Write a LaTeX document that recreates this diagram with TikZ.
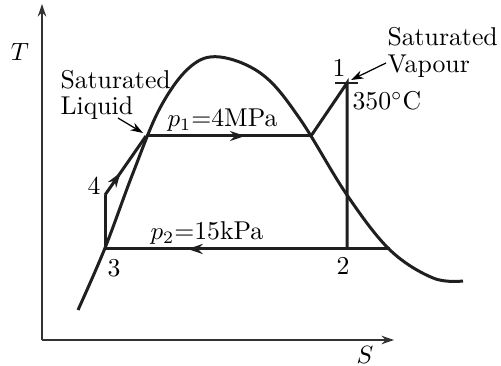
\documentclass[tikz,border=0pt]{standalone}
\usetikzlibrary{arrows.meta,decorations.markings}

\begin{document}
\begin{tikzpicture}[
  x=0.4pt,y=-0.4pt,
  font=\fontsize{10.3}{10.6}\selectfont,
  axis/.style={line width=.6pt,draw=black!80,-{Stealth[length=5pt,width=3.4pt]}},
  process/.style={line width=1.2pt,draw=black!88},
  dome/.style={line width=1.2pt,draw=black!88},
  pointer/.style={line width=.5pt,-{Stealth[length=5pt,width=3.4pt]}},
  midarrow/.style={postaction={decorate},decoration={markings,
    mark=at position #1 with {\arrow{Stealth[length=6pt,width=4pt]}}}},
  lbl/.style={inner sep=0pt}
]
  \useasboundingbox (0,0) rectangle (501,366);

  % axes
  \coordinate (origin) at (42,340);
  \coordinate (Ttop) at (42,4);
  \coordinate (Send) at (394,340);
  \draw[axis] (origin) -- (Ttop);
  \draw[axis] (origin) -- (Send);
  \node[lbl] (Tlabel) at (20,52) {$T$};
  \node[lbl] (Slabel) at (365,355) {$S$};

  % saturation dome
  \draw[dome] plot[smooth,tension=.6] coordinates {
    (78,310) (105,248) (133,173) (160,108) (190,67) (220,57)
    (263,75) (300,119) (347,195) (390,250) (433,278) (463,281)};

  % cycle states
  \coordinate (st1) at (347,83);
  \coordinate (st2) at (347,249);
  \coordinate (st3) at (105,249);
  \coordinate (st4) at (105,195);
  \coordinate (satliq) at (146,136);
  \coordinate (satvap) at (311,136);
  \coordinate (wet) at (390,249);
  \coordinate (tickL) at (335,83);
  \coordinate (tickR) at (358,83);

  \draw[process] (st3) -- (st4);
  \draw[process,midarrow=.38] (st4) -- (satliq);
  \draw[process,midarrow=.6] (satliq) -- (satvap);
  \draw[process] (satvap) -- (st1) -- (st2);
  \draw[process,midarrow=.71] (wet) -- (st3);
  \draw[line width=.8pt,black!88] (tickL) -- (tickR);

  % labels
  \node[lbl] (n1) at (339,68) {1};
  \node[lbl] (n2) at (343,266) {2};
  \node[lbl] (n3) at (114,268) {3};
  \node[lbl] (n4) at (94,186) {4};
  \node[lbl,anchor=west] (temp) at (352,101) {350$^\circ$C};
  \node[lbl,anchor=base west] (phigh) at (167,127) {$p_1$=4MPa};
  \node[lbl,anchor=base west] (plow) at (150,240) {$p_2$=15kPa};

  \node[lbl,align=left,anchor=north west] (liqtext) at (60,69.5) {Saturated\\Liquid};
  \node[lbl,align=left,anchor=north west] (vaptext) at (387,27) {Saturated\\Vapour};
  \coordinate (liqtail) at (118,118);
  \coordinate (liqhead) at (143,133);
  \coordinate (vaptail) at (386,63);
  \coordinate (vaphead) at (351,80);
  \draw[pointer] (liqtail) -- (liqhead);
  \draw[pointer] (vaptail) -- (vaphead);
\end{tikzpicture}
\end{document}
